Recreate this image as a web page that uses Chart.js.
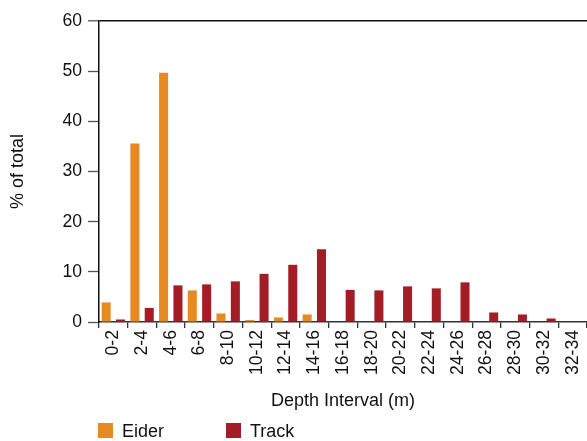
<!DOCTYPE html>
<html>
<head>
<meta charset="utf-8">
<script src="https://cdn.jsdelivr.net/npm/chart.js@4/dist/chart.umd.min.js"></script>
<style>
  html, body { margin: 0; padding: 0; background: #fff; }
  #wrap { position: relative; width: 587px; height: 441px; }
  #legend { position: absolute; left: 98px; top: 421px; font-family: "Liberation Sans", Arial, sans-serif; font-size: 18px; color: #111; white-space: nowrap; }
  .item { display: inline-block; width: 128px; height: 20px; position: relative; }
  .sw { position: absolute; left: 0; top: 2px; width: 15px; height: 15px; }
  .lb { position: absolute; left: 24px; top: 0px; line-height: 20px; }
</style>
</head>
<body>
<div id="wrap">
  <canvas id="c" width="587" height="441"></canvas>
  <div id="legend"></div>
</div>
<script>
const categories = ["0-2","2-4","4-6","6-8","8-10","10-12","12-14","14-16","16-18","18-20","20-22","22-24","24-26","26-28","28-30","30-32","32-34"];
const eider = [3.9, 35.6, 49.7, 6.3, 1.7, 0.4, 0.9, 1.5, 0, 0, 0, 0, 0, 0, 0, 0, 0];
const track = [0.5, 2.8, 7.3, 7.5, 8.1, 9.6, 11.4, 14.5, 6.4, 6.3, 7.1, 6.7, 7.9, 1.9, 1.5, 0.7, 0];
const seriesNames = ["Eider", "Track"];
const seriesColors = ["#E68A23", "#A21D25"];
const yTicks = [0, 10, 20, 30, 40, 50, 60];

const FONT = "'Liberation Sans', Arial, Helvetica, sans-serif";

const chart = new Chart(document.getElementById('c'), {
  type: 'bar',
  data: {
    labels: categories,
    datasets: [
      { label: seriesNames[0], data: eider, backgroundColor: seriesColors[0], borderWidth: 0, barPercentage: 0.63, categoryPercentage: 1.0 },
      { label: seriesNames[1], data: track, backgroundColor: seriesColors[1], borderWidth: 0, barPercentage: 0.63, categoryPercentage: 1.0 }
    ]
  },
  options: {
    responsive: false,
    animation: false,
    devicePixelRatio: 1,
    layout: { padding: { left: 0, right: 0, top: 21, bottom: 29 } },
    plugins: { legend: { display: false }, tooltip: { enabled: false } },
    scales: {
      x: {
        offset: true,
        grid: { display: true, drawOnChartArea: false, offset: true, tickLength: 6, color: '#333', tickColor: '#333', lineWidth: 1.3 },
        border: { display: true, color: '#333', width: 1.5 },
        ticks: { minRotation: 90, maxRotation: 90, autoSkip: false, padding: 2, color: '#111', font: { family: FONT, size: 17.6 } },
        title: { display: true, text: 'Depth Interval (m)', color: '#111', font: { family: FONT, size: 18 }, padding: { top: 0, bottom: 0 } },
        afterFit: (s) => { s.height = 90; s.paddingLeft = 0; s.paddingRight = 0; }
      },
      y: {
        min: 0, max: 60,
        afterBuildTicks: (s) => { s.ticks = yTicks.map(v => ({ value: v })); },
        grid: {
          display: true, drawOnChartArea: true, tickLength: 11,
          color: (ctx) => (ctx.tick && ctx.tick.value === 60) ? '#111' : 'rgba(0,0,0,0)',
          lineWidth: (ctx) => (ctx.tick && ctx.tick.value === 60) ? 1.6 : 1,
          tickColor: '#555', tickWidth: 1.3
        },
        border: { display: true, color: '#111', width: 1.5 },
        ticks: { padding: 6, color: '#111', font: { family: FONT, size: 17.6 } },
        title: { display: true, text: '% of total', color: '#111', font: { family: FONT, size: 18 }, padding: { top: 7, bottom: 0 } },
        afterFit: (s) => { s.width = 99; s.paddingTop = 0; s.paddingBottom = 0; }
      }
    }
  }
});

const legend = document.getElementById('legend');
chart.data.datasets.forEach(ds => {
  const item = document.createElement('span');
  item.className = 'item';
  const sw = document.createElement('span');
  sw.className = 'sw';
  sw.style.background = ds.backgroundColor;
  const lb = document.createElement('span');
  lb.className = 'lb';
  lb.textContent = ds.label;
  item.appendChild(sw); item.appendChild(lb);
  legend.appendChild(item);
});
</script>
</body>
</html>
